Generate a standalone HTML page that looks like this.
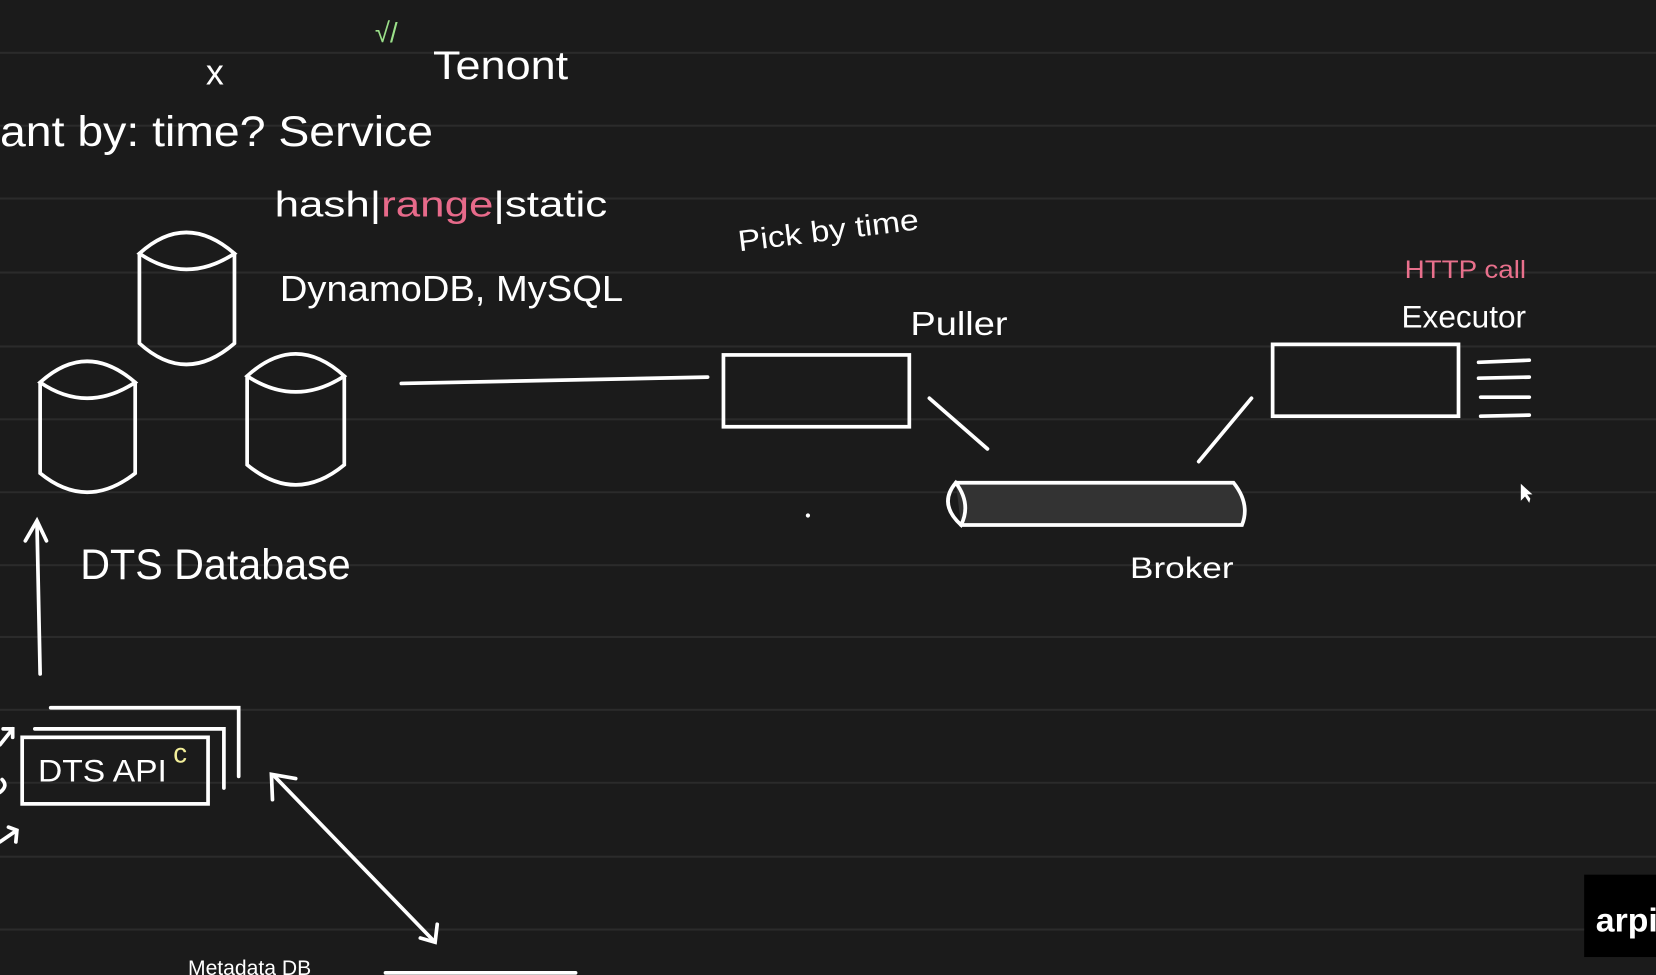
<!DOCTYPE html>
<html><head><meta charset="utf-8"><style>
html,body{margin:0;padding:0;background:#1b1b1b;overflow:hidden}
svg{display:block}
text{font-family:"Liberation Sans",sans-serif;fill:#fff}
</style></head><body>
<svg width="1656" height="975" viewBox="0 0 1568 923" preserveAspectRatio="none" xmlns="http://www.w3.org/2000/svg">
<rect width="1568" height="923" fill="#1b1b1b"/>
<g stroke="#2b2b2b" stroke-width="2">
<line x1="0" y1="50" x2="1568" y2="50"/><line x1="0" y1="119" x2="1568" y2="119"/>
<line x1="0" y1="188" x2="1568" y2="188"/><line x1="0" y1="258" x2="1568" y2="258"/>
<line x1="0" y1="328" x2="1568" y2="328"/><line x1="0" y1="397" x2="1568" y2="397"/>
<line x1="0" y1="466" x2="1568" y2="466"/><line x1="0" y1="535" x2="1568" y2="535"/>
<line x1="0" y1="603" x2="1568" y2="603"/><line x1="0" y1="672" x2="1568" y2="672"/>
<line x1="0" y1="741" x2="1568" y2="741"/><line x1="0" y1="811" x2="1568" y2="811"/>
<line x1="0" y1="880" x2="1568" y2="880"/>
</g>
<g stroke="#fff" stroke-width="3.5" fill="none" stroke-linecap="round">
<path d="M132 240 Q176 200 222 240 Q176 270 132 240 Z M132 240 L132 325 Q176 365 222 325 L222 240"/>
<path d="M38 362 Q82 322 128 362 Q82 392 38 362 Z M38 362 L38 448 Q82 484 128 448 L128 362"/>
<path d="M234 356 Q280 314 326 356 Q280 386 234 356 Z M234 356 L234 440 Q280 478 326 440 L326 356"/>
<line x1="380" y1="363" x2="670" y2="357"/>
<rect x="685" y="336" width="176" height="68"/>
<rect x="1205" y="326" width="176" height="68"/>
<line x1="880" y1="377" x2="935" y2="425"/>
<line x1="1185" y1="377" x2="1135" y2="437"/>
<line x1="1400" y1="343" x2="1448" y2="341"/><line x1="1400" y1="358" x2="1448" y2="357"/>
<line x1="1402" y1="376" x2="1448" y2="376"/><line x1="1402" y1="394" x2="1448" y2="393"/>
<path d="M905 457 L1168 457 Q1184 477 1176 497 L910 497" fill="#333"/>
<path d="M905 457 Q888 477 910 497 Q920 477 905 457 Z"/>
<line x1="38" y1="638" x2="35" y2="495"/><path d="M24 512 L35 493 L44 512"/>
<rect x="21" y="698" width="176" height="63"/>
<path d="M33 690 L212 690 L212 746"/><path d="M48 670 L226 670 L226 735"/>
<path d="M0 705 L12 690 M3 690 L12 690 L12 698"/>
<path d="M0 750 Q8 744 2 738"/>
<path d="M0 797 L16 786 M8 783 L16 786 L15 797"/>
<line x1="260" y1="735" x2="410" y2="890"/>
<path d="M258 757 L257 733 L280 737"/><path d="M398 888 L412 892 L414 875"/>
<line x1="365" y1="921" x2="545" y2="921"/>
</g>
<circle cx="765" cy="488" r="2" fill="#fff"/>
<text x="0" y="138" font-size="40" textLength="410" lengthAdjust="spacingAndGlyphs">ant by: time? Service</text>
<text x="195" y="80" font-size="34">x</text>
<text x="355" y="40" font-size="26" style="fill:#9be08a">√/</text>
<text x="410" y="75" font-size="38" textLength="128" lengthAdjust="spacingAndGlyphs">Tenont</text>
<text x="260" y="205" font-size="34" textLength="315" lengthAdjust="spacingAndGlyphs">hash|<tspan style="fill:#e76a8a">range</tspan>|static</text>
<text x="265" y="285" font-size="34" textLength="325" lengthAdjust="spacingAndGlyphs">DynamoDB, MySQL</text>
<text x="700" y="238" font-size="28" transform="rotate(-7 700 238)" textLength="172" lengthAdjust="spacingAndGlyphs">Pick by time</text>
<text x="862" y="317" font-size="32" textLength="92" lengthAdjust="spacingAndGlyphs">Puller</text>
<text x="1330" y="263" font-size="24" style="fill:#e8708c" textLength="115" lengthAdjust="spacingAndGlyphs">HTTP call</text>
<text x="1327" y="310" font-size="30" textLength="118" lengthAdjust="spacingAndGlyphs">Executor</text>
<text x="1070" y="547" font-size="28" textLength="98" lengthAdjust="spacingAndGlyphs">Broker</text>
<text x="76" y="548" font-size="40" textLength="256" lengthAdjust="spacingAndGlyphs">DTS Database</text>
<text x="36" y="740" font-size="30" textLength="122" lengthAdjust="spacingAndGlyphs">DTS API</text>
<text x="164" y="722" font-size="26" style="fill:#f3ef9a">c</text>
<text x="178" y="923" font-size="20">Metadata DB</text>
<rect x="1500" y="828" width="68" height="78" fill="#000"/>
<text x="1511" y="882" font-size="32" font-weight="bold">arpi</text>
<path d="M1440 458 L1440 474 L1444 470 L1448 476 L1449 472 L1446 468 L1451 468 Z" fill="#fff"/>
</svg>
</body></html>
